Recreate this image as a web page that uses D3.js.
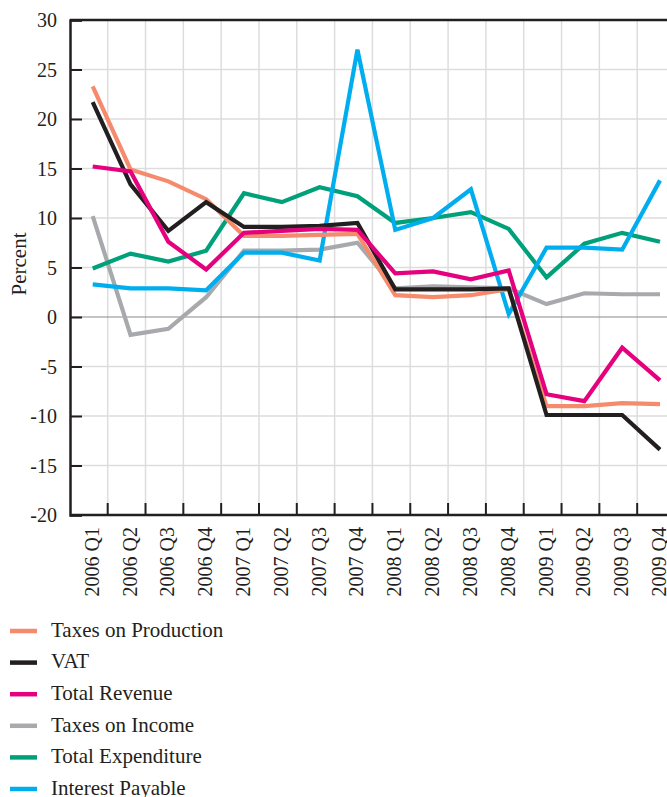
<!DOCTYPE html>
<html>
<head>
<meta charset="utf-8">
<script src="https://cdn.jsdelivr.net/npm/d3@7"></script>
<style>
  body { margin: 0; background: #fff; }
  svg text { font-family: "Liberation Serif", "DejaVu Serif", serif; fill: #231f20; }
</style>
</head>
<body>
<div id="chart"></div>
<script>
// quarters on the x axis
const quarters = ["2006 Q1", "2006 Q2", "2006 Q3", "2006 Q4",
                  "2007 Q1", "2007 Q2", "2007 Q3", "2007 Q4",
                  "2008 Q1", "2008 Q2", "2008 Q3", "2008 Q4",
                  "2009 Q1", "2009 Q2", "2009 Q3", "2009 Q4"];

const yTicks = [30, 25, 20, 15, 10, 5, 0, -5, -10, -15, -20];

// series values (percent)
const taxesOnProduction = [23.3, 14.9, 13.7, 11.9, 8.2, 8.2, 8.3, 8.4, 2.2, 2.0, 2.2, 2.8, -9.0, -9.0, -8.7, -8.8];
const vat               = [21.7, 13.4, 8.7, 11.6, 9.1, 9.1, 9.2, 9.5, 2.8, 2.8, 2.8, 2.9, -9.9, -9.9, -9.9, -13.4];
const totalRevenue      = [15.2, 14.7, 7.6, 4.8, 8.5, 8.7, 8.9, 8.8, 4.4, 4.6, 3.8, 4.7, -7.8, -8.5, -3.1, -6.4];
const taxesOnIncome     = [10.2, -1.8, -1.2, 2.0, 6.7, 6.7, 6.8, 7.5, 2.9, 3.1, 3.0, 2.9, 1.3, 2.4, 2.3, 2.3];
const totalExpenditure  = [4.9, 6.4, 5.6, 6.7, 12.5, 11.6, 13.1, 12.2, 9.5, 10.0, 10.6, 8.9, 4.0, 7.4, 8.5, 7.6];
const interestPayable   = [3.3, 2.9, 2.9, 2.7, 6.5, 6.5, 5.7, 27.0, 8.8, 10.0, 12.9, 0.3, 7.0, 7.0, 6.8, 13.8];

const seriesNames  = ["Taxes on Production", "VAT", "Total Revenue", "Taxes on Income", "Total Expenditure", "Interest Payable"];
const seriesValues = [taxesOnProduction, vat, totalRevenue, taxesOnIncome, totalExpenditure, interestPayable];
const seriesColors = ["#f58b6c", "#231f20", "#e5007d", "#a7a9ac", "#00a17a", "#00aeef"];

// drawing order: back to front
const drawOrder = [3, 4, 5, 0, 1, 2];

const svgWidth = 667, svgHeight = 797;
const plotLeft = 70, plotTop = 20, plotBottom = 515;

const svg = d3.select("#chart").append("svg")
    .attr("width", svgWidth)
    .attr("height", svgHeight);

const x = d3.scalePoint().domain(quarters).range([92.7, 660]);
const y = d3.scaleLinear().domain([-20, 30]).range([plotBottom, plotTop]);

// vertical grid lines (between quarters)
const gridX = quarters.map(q => x(q) + 15);
svg.append("g").selectAll("line")
    .data(gridX)
    .enter().append("line")
    .attr("x1", d => d).attr("x2", d => d)
    .attr("y1", plotTop).attr("y2", plotBottom)
    .attr("stroke", "#dddddd")
    .attr("stroke-width", 1.5);

// horizontal grid lines
svg.append("g").selectAll("line")
    .data(yTicks.filter(d => d !== 0 && d !== 30 && d !== -20))
    .enter().append("line")
    .attr("x1", plotLeft).attr("x2", svgWidth)
    .attr("y1", d => y(d)).attr("y2", d => y(d))
    .attr("stroke", "#dddddd")
    .attr("stroke-width", 1.5);

// zero line
svg.append("line")
    .attr("x1", plotLeft).attr("x2", svgWidth)
    .attr("y1", y(0)).attr("y2", y(0))
    .attr("stroke", "#8a8a8a")
    .attr("stroke-width", 1.2);

// lines
const line = d3.line()
    .x((d, i) => x(quarters[i]))
    .y(d => y(d));

svg.append("g").selectAll("path")
    .data(drawOrder)
    .enter().append("path")
    .attr("d", i => line(seriesValues[i]))
    .attr("fill", "none")
    .attr("stroke", i => seriesColors[i])
    .attr("stroke-width", 4.2)
    .attr("stroke-linejoin", "miter");

// frame: top and bottom
svg.append("line")
    .attr("x1", plotLeft).attr("x2", svgWidth)
    .attr("y1", plotTop).attr("y2", plotTop)
    .attr("stroke", "#231f20").attr("stroke-width", 2.5);
svg.append("line")
    .attr("x1", plotLeft).attr("x2", svgWidth)
    .attr("y1", plotBottom).attr("y2", plotBottom)
    .attr("stroke", "#231f20").attr("stroke-width", 2.5);

// y axis
const yAxis = svg.append("g")
    .attr("transform", "translate(" + plotLeft + ",0)")
    .call(d3.axisRight(y).tickValues(yTicks).tickSize(12).tickFormat(d => String(d)));
yAxis.select(".domain").attr("stroke", "#231f20").attr("stroke-width", 2.5);
yAxis.selectAll(".tick line").attr("stroke", "#231f20").attr("stroke-width", 2);
yAxis.selectAll(".tick text")
    .attr("x", -13)
    .attr("dy", "0.33em")
    .attr("text-anchor", "end")
    .attr("fill", "#231f20")
    .style("font-size", "20px")
    .style("font-family", "Liberation Serif, serif");

// x axis ticks (at the grid positions)
svg.append("g").selectAll("line")
    .data(gridX)
    .enter().append("line")
    .attr("x1", d => d).attr("x2", d => d)
    .attr("y1", plotBottom).attr("y2", plotBottom - 12)
    .attr("stroke", "#231f20")
    .attr("stroke-width", 2);

// x labels
svg.append("g").selectAll("text")
    .data(quarters)
    .enter().append("text")
    .attr("transform", d => "translate(" + (x(d) - 1) + "," + 527 + ") rotate(-90)")
    .attr("dy", "0.35em")
    .attr("text-anchor", "end")
    .style("font-size", "20px")
    .text(d => d);

// y axis title
svg.append("text")
    .attr("transform", "translate(19,264) rotate(-90)")
    .attr("text-anchor", "middle")
    .attr("dy", "0.35em")
    .style("font-size", "21px")
    .text("Percent");

// legend
const legend = svg.append("g").selectAll("g")
    .data(seriesNames)
    .enter().append("g")
    .attr("transform", (d, i) => "translate(0," + (631 + i * 31.6) + ")");

legend.append("line")
    .attr("x1", 10).attr("x2", 37)
    .attr("stroke", (d, i) => seriesColors[i])
    .attr("stroke-width", 4.5);

legend.append("text")
    .attr("x", 51)
    .attr("dy", "0.28em")
    .style("font-size", "21px")
    .text(d => d);
</script>
</body>
</html>
